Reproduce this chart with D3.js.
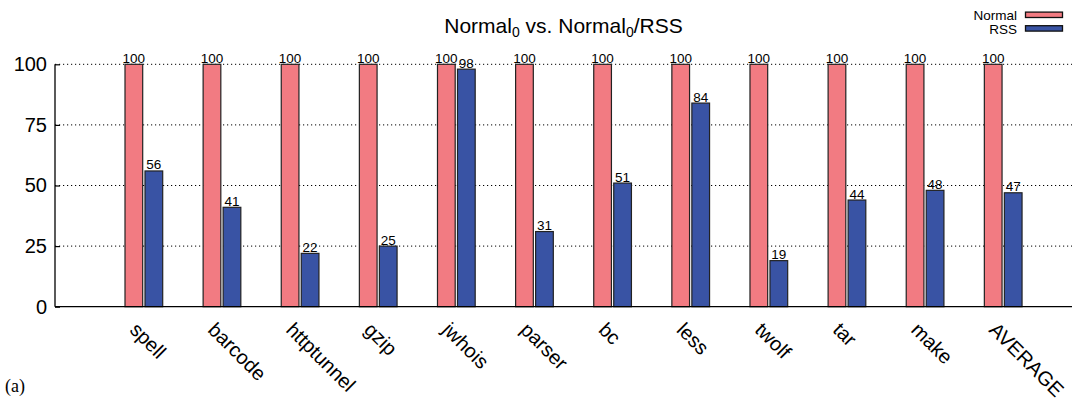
<!DOCTYPE html>
<html><head><meta charset="utf-8">
<script src="https://cdn.jsdelivr.net/npm/d3@7"></script>
<style>
html,body{margin:0;padding:0;background:#fff;}
svg{display:block;}
text{font-family:"Liberation Sans",Arial,Helvetica,sans-serif;fill:#000;}
text.serif{font-family:"Liberation Serif","Times New Roman",serif;}
</style></head>
<body>
<svg id="chart" width="1073" height="398"></svg>
<script>
const categories = ["spell","barcode","httptunnel","gzip","jwhois","parser","bc","less","twolf","tar","make","AVERAGE"];
const normalValues = [100,100,100,100,100,100,100,100,100,100,100,100];
const rssValues = [56,41,22,25,98,31,51,84,19,44,48,47];
const seriesNames = ["Normal","RSS"];
const yTicks = [0,25,50,75,100];

(function(){
const colors = {Normal:"#f27b82", RSS:"#3953a4"};
const svg = d3.select("#chart");
const mLeft = 55, mRight = 1072, mTop = 64.3, mBottom = 306.7;

const y = d3.scaleLinear().domain([0,100]).range([mBottom, mTop]);
const x = d3.scalePoint().domain(categories).range([143.85, 1003.2]);
const barW = 17.7, gap = 2.3;

// grid
svg.append("g").selectAll("line").data(yTicks.filter(d=>d>0)).join("line")
  .attr("x1", mLeft).attr("x2", mRight)
  .attr("y1", d=>y(d)).attr("y2", d=>y(d))
  .attr("stroke","#000").attr("stroke-width",1).attr("stroke-dasharray","1.2,2.8");

// bars
const series = [
  {name:"Normal", values: normalValues, off: -gap/2 - barW},
  {name:"RSS", values: rssValues, off: gap/2}
];
series.forEach(s=>{
  const g = svg.append("g");
  g.selectAll("rect").data(categories).join("rect")
    .attr("x", c=>x(c)+s.off).attr("width", barW)
    .attr("y", (c,i)=>y(s.values[i])).attr("height",(c,i)=>y(0)-y(s.values[i]))
    .attr("fill", colors[s.name]).attr("stroke","#222").attr("stroke-width",1.2);
  g.selectAll("text").data(categories).join("text")
    .attr("x", c=>x(c)+s.off+barW/2).attr("y",(c,i)=>y(s.values[i])-1.5)
    .attr("text-anchor","middle").attr("font-size",13.5)
    .text((c,i)=>s.values[i]);
});

// axes
const yAxis = d3.axisLeft(y).tickValues(yTicks).tickSize(-5).tickPadding(8);
const ya = svg.append("g").attr("transform",`translate(${mLeft},0)`).call(yAxis);
ya.select(".domain").attr("stroke","#000").attr("stroke-width",1.3).attr("d",`M0,${mBottom}V${mTop}`);
ya.selectAll(".tick line").attr("stroke","#000").attr("stroke-width",1.2);
ya.selectAll(".tick text").attr("font-size",20).attr("font-family","Liberation Sans, Arial, sans-serif").attr("fill","#000");

svg.append("line").attr("x1",mLeft).attr("x2",mRight).attr("y1",mBottom).attr("y2",mBottom)
  .attr("stroke","#000").attr("stroke-width",1.3);

// x labels
svg.append("g").selectAll("text").data(categories).join("text")
  .attr("transform", c=>`translate(${x(c)-5},${mBottom+14}) rotate(45)`)
  .attr("text-anchor","start").attr("dominant-baseline","hanging")
  .attr("font-size",20).text(c=>c);

// title
const t = svg.append("text").attr("x",(mLeft+mRight)/2).attr("y",33).attr("text-anchor","middle").attr("font-size",21);
t.append("tspan").text("Normal");
t.append("tspan").attr("font-size",14).attr("dy",4).text("0");
t.append("tspan").attr("dy",-4).text(" vs. Normal");
t.append("tspan").attr("font-size",14).attr("dy",4).text("0");
t.append("tspan").attr("dy",-4).text("/RSS");

// legend
const lg = svg.append("g");
seriesNames.forEach((n,i)=>{
  const cy = 14.8 + i*13.6;
  lg.append("rect").attr("x",1025.5).attr("y",cy-2.7).attr("width",37).attr("height",5.4)
    .attr("fill",colors[n]).attr("stroke","#111").attr("stroke-width",1.3);
  lg.append("text").attr("x",1017).attr("y",cy+5.3).attr("text-anchor","end").attr("font-size",13.5).text(n);
});

// panel label
svg.append("text").attr("class","serif").attr("x",5).attr("y",392)
  .attr("font-size",18).text("(a)");
})();
</script>
</body></html>
